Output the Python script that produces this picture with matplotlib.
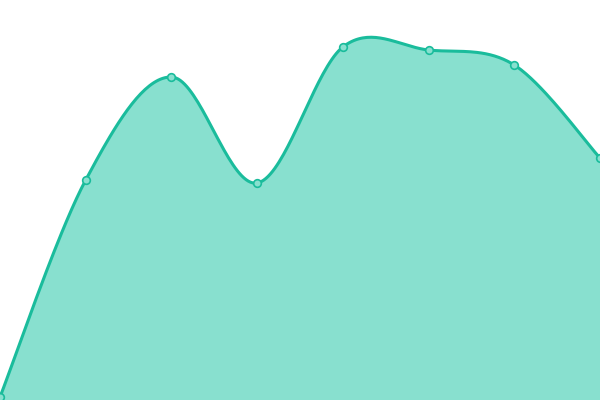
import numpy as np
import matplotlib
matplotlib.use("Agg")
import matplotlib.pyplot as plt

# values (height above the bottom edge, px-ish units)
x_pos  = [0, 1, 2, 3, 4, 5, 6, 7]
values = [3, 220, 323, 217, 353, 350, 335, 242]

LINE = "#1abc9c"
FILL = "#88e0cf"

def catmull_rom(xs, ys, n=40):
    xs = np.asarray(xs, float); ys = np.asarray(ys, float)
    px = np.r_[xs[0], xs, xs[-1]]; py = np.r_[ys[0], ys, ys[-1]]
    ox, oy = [], []
    t = np.linspace(0, 1, n)
    h00 = 2*t**3 - 3*t**2 + 1; h10 = t**3 - 2*t**2 + t
    h01 = -2*t**3 + 3*t**2;    h11 = t**3 - t**2
    for i in range(1, len(px) - 2):
        mx0 = (px[i+1] - px[i-1]) / 2; mx1 = (px[i+2] - px[i]) / 2
        my0 = (py[i+1] - py[i-1]) / 2; my1 = (py[i+2] - py[i]) / 2
        ox.append(h00*px[i] + h10*mx0 + h01*px[i+1] + h11*mx1)
        oy.append(h00*py[i] + h10*my0 + h01*py[i+1] + h11*my1)
    return np.concatenate(ox), np.concatenate(oy)

sx, sy = catmull_rom(x_pos, values)

fig = plt.figure(figsize=(6, 4), dpi=100)
ax = fig.add_axes([0, 0, 1, 1])
ax.fill_between(sx, 0, sy, color=FILL, lw=0)
ax.plot(sx, sy, color=LINE, lw=2.2, solid_capstyle="round")
ax.plot(x_pos, values, "o", ms=5.5, mfc=FILL, mec=LINE, mew=1.2)
ax.set_xlim(0, 7)
ax.set_ylim(0, 400)
ax.axis("off")
fig.savefig("out.png", dpi=100)
